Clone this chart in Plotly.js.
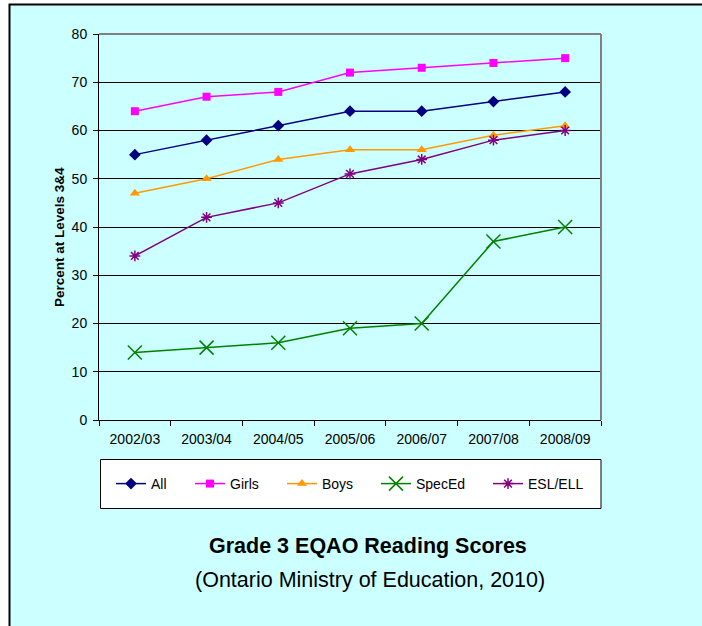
<!DOCTYPE html>
<html>
<head>
<meta charset="utf-8">
<script src="https://cdn.plot.ly/plotly-3.0.1.min.js"></script>
<style>html,body{margin:0;padding:0;background:#fff;}#chart{width:702px;height:626px;}</style>
</head>
<body>
<div id="chart"></div>
<script>
var years = ["2002/03","2003/04","2004/05","2005/06","2006/07","2007/08","2008/09"];
var allScores = [55, 58, 61, 64, 64, 66, 68];
var girlsScores = [64, 67, 68, 72, 73, 74, 75];
var boysScores = [47, 50, 54, 56, 56, 59, 61];
var specEdScores = [14, 15, 16, 19, 20, 37, 40];
var eslScores = [34, 42, 45, 51, 54, 58, 60];
var seriesNames = ["All","Girls","Boys","SpecEd","ESL/ELL"];
var yTickVals = [0,10,20,30,40,50,60,70,80];

var W = 702, H = 626;
var L = 99, R = 601, T = 34, B = 420;
function px(x){ return (x - L) / (R - L); }
function py(y){ return (B - y) / (B - T); }

var font = "Arial, 'Liberation Sans', sans-serif";

function mk(name, y, color, symbol, size, legendId, mline){
  return {
    type: "scatter", mode: "lines+markers", name: name, x: years, y: y,
    line: {color: color, width: 1.5},
    marker: {color: color, symbol: symbol, size: size, line: {color: color, width: mline || 0}},
    legend: legendId, cliponaxis: false
  };
}

var traces = [
  mk(seriesNames[0], allScores, "#000080", "diamond", 9, "legend"),
  mk(seriesNames[1], girlsScores, "#FF00FF", "square", 8, "legend2"),
  mk(seriesNames[2], boysScores, "#FF9900", "triangle-up", 9, "legend3"),
  mk(seriesNames[3], specEdScores, "#008000", "x-thin-open", 14, "legend4", 1.5),
  mk(seriesNames[4], eslScores, "#800080", "asterisk-open", 9, "legend5", 1.5)
];

var legendY = py(484);
var legStarts = [111, 190, 282, 376, 488];
function leg(i){
  return {x: px(legStarts[i]), xanchor: "left", y: legendY, yanchor: "middle",
    orientation: "h", bgcolor: "rgba(0,0,0,0)", borderwidth: 0,
    font: {family: font, size: 14, color: "#000"}};
}

var layout = {
  width: W, height: H,
  paper_bgcolor: "#FFFFFF",
  plot_bgcolor: "rgba(0,0,0,0)",
  margin: {l: L, r: W - R, t: T, b: H - B, pad: 0},
  showlegend: true,
  legend: leg(0), legend2: leg(1), legend3: leg(2), legend4: leg(3), legend5: leg(4),
  xaxis: {
    type: "category", tickson: "boundaries", ticks: "outside", ticklen: 5,
    tickcolor: "#000", showline: true, linecolor: "#000", linewidth: 1,
    showgrid: false, tickfont: {family: font, size: 14, color: "#000"},
    ticklabelstandoff: 6,
    range: [-0.5, 6.5], fixedrange: true
  },
  yaxis: {
    range: [0, 80], tickvals: yTickVals, ticks: "outside", ticklen: 5,
    tickcolor: "#000", showline: true, linecolor: "#000", linewidth: 1,
    showgrid: true, gridcolor: "#000", gridwidth: 1, zeroline: false,
    tickfont: {family: font, size: 14, color: "#000"},
    ticklabelstandoff: 3
  },
  shapes: [
    {type: "rect", xref: "paper", yref: "paper", layer: "below",
     x0: px(9.5), x1: px(720), y0: py(4.5), y1: py(640),
     fillcolor: "#CCFFFF", line: {color: "#000", width: 2}},
    {type: "line", xref: "paper", yref: "paper", x0: 0, x1: 1, y0: 1, y1: 1, line: {color: "#808080", width: 2}},
    {type: "line", xref: "paper", yref: "paper", x0: 1, x1: 1, y0: 0, y1: 1, line: {color: "#808080", width: 2}},
    {type: "rect", xref: "paper", yref: "paper", layer: "below",
     x0: px(100.5), x1: px(601), y0: py(459.5), y1: py(508.5),
     fillcolor: "#FFFFFF", line: {color: "#000", width: 1}}
  ],
  annotations: [
    {xref: "paper", yref: "paper", x: px(59), y: py(237), xanchor: "center", yanchor: "middle",
     text: "<b>Percent at Levels 3&amp;4</b>", textangle: -90, showarrow: false,
     font: {family: font, size: 13.5, color: "#000"}},
    {xref: "paper", yref: "paper", x: px(368), y: py(546), xanchor: "center", yanchor: "middle",
     text: "<b>Grade 3 EQAO Reading Scores</b>", showarrow: false,
     font: {family: font, size: 21.5, color: "#000"}},
    {xref: "paper", yref: "paper", x: px(370), y: py(580), xanchor: "center", yanchor: "middle",
     text: "(Ontario Ministry of Education, 2010)", showarrow: false,
     font: {family: font, size: 21.5, color: "#000"}}
  ]
};

Plotly.newPlot("chart", traces, layout, {displayModeBar: false, staticPlot: true});
</script>
</body>
</html>
